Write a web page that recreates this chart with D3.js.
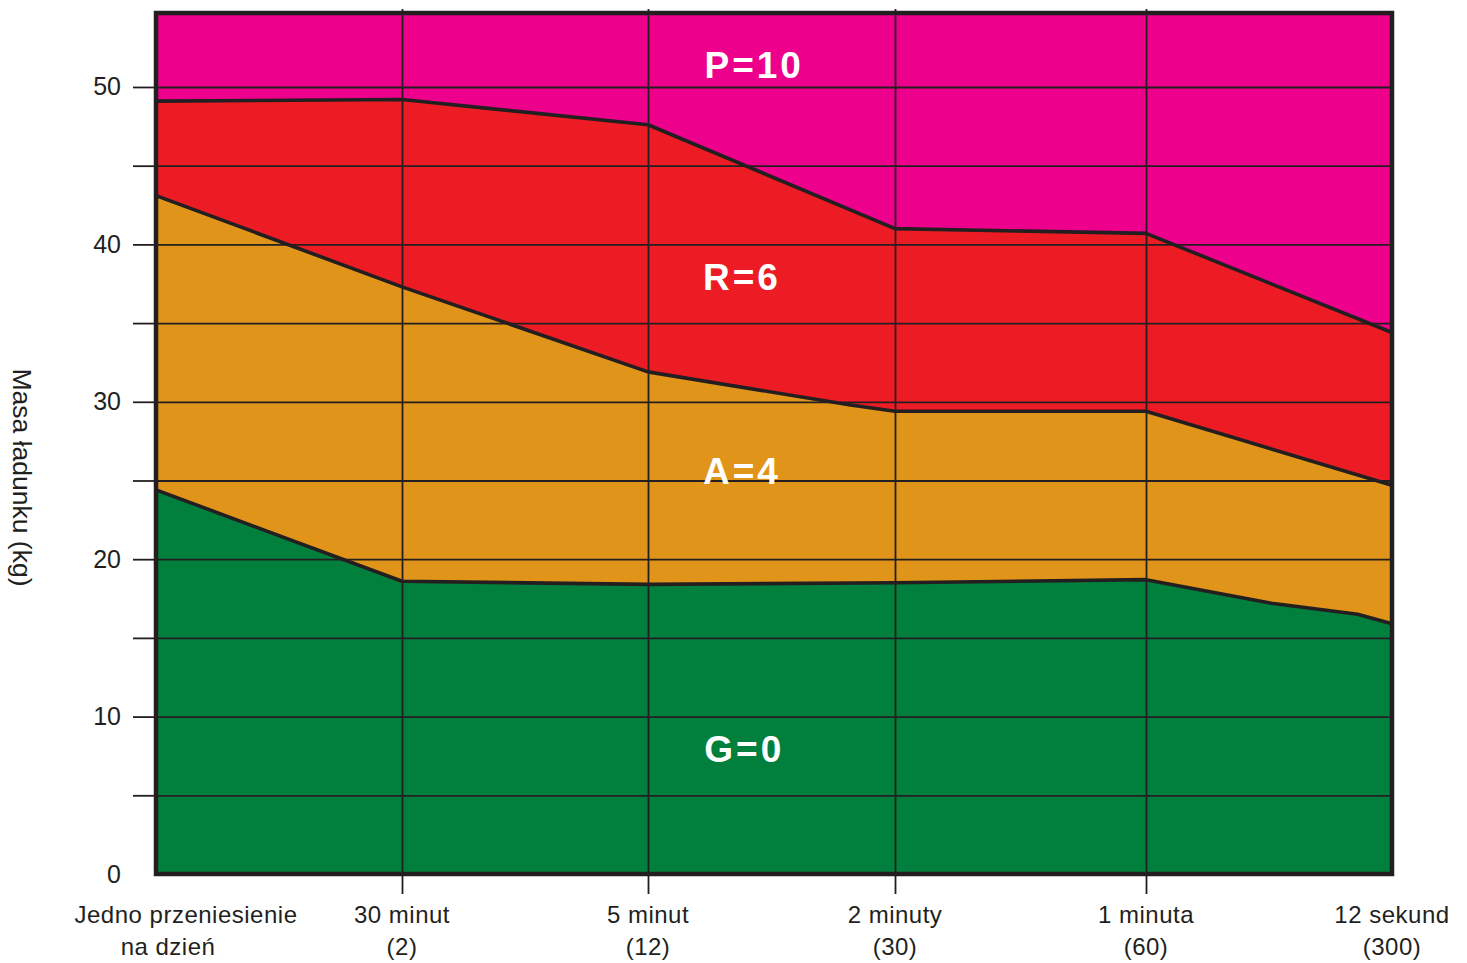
<!DOCTYPE html>
<html>
<head>
<meta charset="utf-8">
<script src="https://cdn.jsdelivr.net/npm/d3@7"></script>
<style>
  html, body { margin: 0; padding: 0; background: #ffffff; }
  svg { display: block; }
  text { font-family: "Liberation Sans", Arial, Helvetica, sans-serif; }
</style>
</head>
<body>
<svg id="chart" width="1467" height="963"></svg>
<script>
// ---------------- DATA ----------------
const categories = [
  ["Jedno przeniesienie", "na dzień"],
  ["30 minut", "(2)"],
  ["5 minut", "(12)"],
  ["2 minuty", "(30)"],
  ["1 minuta", "(60)"],
  ["12 sekund", "(300)"]
];
// boundary vertices: [category position (index), kg]
const greenTop  = [[0, 24.4], [1, 18.6], [2, 18.4], [3, 18.5], [4, 18.7], [4.51, 17.2], [4.86, 16.5], [5, 15.9]];
const orangeTop = [[0, 43.1], [1, 37.3], [2, 31.9], [2.82, 29.8], [3, 29.4], [4, 29.4], [5, 24.7]];
const redTop    = [[0, 49.1], [1, 49.2], [2, 47.6], [3, 41.0], [4, 40.7], [5, 34.4]];
const zoneLabels = ["P=10", "R=6", "A=4", "G=0"];
const yTickLabels = [0, 10, 20, 30, 40, 50];
const gridValues = [5, 10, 15, 20, 25, 30, 35, 40, 45, 50];
const yTitle = "Masa ładunku (kg)";
const yMax = 54.7;

// ---------------- LAYOUT ----------------
const pL = 156, pR = 1392, pT = 13, pB = 874;
const colors = { P: "#EC008C", R: "#ED1C24", A: "#E0951A", G: "#00803C", ink: "#231F20" };

const svg = d3.select("#chart");
// category columns in the original are very slightly uneven
const x = d3.scaleLinear().domain([0, 1, 2, 3, 4, 5]).range([pL, 402, 648, 895, 1146, pR]);
const y = d3.scaleLinear().domain([0, yMax]).range([pB, pT]);

// background (top zone)
svg.append("rect").attr("x", pL).attr("y", pT)
  .attr("width", pR - pL).attr("height", pB - pT)
  .attr("fill", colors.P);

const area = d3.area().x(d => x(d[0])).y0(y(0)).y1(d => y(d[1]));
[[redTop, colors.R], [orangeTop, colors.A], [greenTop, colors.G]].forEach(([data, c]) => {
  svg.append("path").datum(data).attr("d", area).attr("fill", c);
});

// horizontal grid
const gridG = svg.append("g").attr("transform", `translate(${pL},0)`)
  .call(d3.axisLeft(y).tickValues(gridValues).tickSize(-(pR - pL)).tickFormat(""));
gridG.select(".domain").remove();
gridG.selectAll("line").attr("stroke", colors.ink).attr("stroke-width", 1.8);

// outside y ticks
const yTickG = svg.append("g").attr("transform", `translate(${pL},0)`)
  .call(d3.axisLeft(y).tickValues(gridValues).tickSize(23).tickFormat(""));
yTickG.select(".domain").remove();
yTickG.selectAll("line").attr("stroke", colors.ink).attr("stroke-width", 1.8);

// y labels
const yLabG = svg.append("g").attr("transform", `translate(${pL},0)`)
  .call(d3.axisLeft(y).tickValues(yTickLabels).tickSize(0).tickPadding(35).tickFormat(d3.format("d")));
yLabG.select(".domain").remove();
yLabG.selectAll("text").attr("font-size", 25).attr("fill", colors.ink)
  .attr("font-family", "Liberation Sans, Arial, sans-serif");

// vertical grid (inner categories)
const inner = d3.range(1, categories.length - 1);
const vGrid = svg.append("g").attr("transform", `translate(0,${pB})`)
  .call(d3.axisBottom(x).tickValues(inner).tickSize(-(pB - pT + 4)).tickFormat(""));
vGrid.select(".domain").remove();
vGrid.selectAll("line").attr("stroke", colors.ink).attr("stroke-width", 1.8);
// ticks below the axis
const xTickG = svg.append("g").attr("transform", `translate(0,${pB})`)
  .call(d3.axisBottom(x).tickValues(inner).tickSize(20).tickFormat(""));
xTickG.select(".domain").remove();
xTickG.selectAll("line").attr("stroke", colors.ink).attr("stroke-width", 1.8);

// boundary lines
const line = d3.line().x(d => x(d[0])).y(d => y(d[1]));
[greenTop, orangeTop, redTop].forEach(data => {
  svg.append("path").datum(data).attr("d", line)
    .attr("fill", "none").attr("stroke", colors.ink).attr("stroke-width", 3.6)
    .attr("stroke-linejoin", "round");
});

// frame
svg.append("rect").attr("x", pL).attr("y", pT)
  .attr("width", pR - pL).attr("height", pB - pT)
  .attr("fill", "none").attr("stroke", colors.ink).attr("stroke-width", 4.5);

// x labels
const lineOffsets = [[30, 12], [0, 0], [0, 0], [0, 0], [0, 0], [0, 0]];
const xl = svg.append("g");
categories.forEach((lines, i) => {
  lines.forEach((t, j) => {
    xl.append("text")
      .attr("x", x(i) + lineOffsets[i][j])
      .attr("y", 923 + j * 32)
      .attr("text-anchor", "middle")
      .attr("font-size", 24)
      .attr("letter-spacing", 0.5)
      .attr("fill", colors.ink)
      .text(t);
  });
});

// y title
svg.append("text")
  .attr("transform", `translate(13,${(365 + 590) / 2}) rotate(90)`)
  .attr("text-anchor", "middle")
  .attr("font-size", 26.5)
  .attr("fill", colors.ink)
  .text(yTitle);

// zone labels
const labelPos = [[2.43, 78], [2.38, 290], [2.38, 484], [2.39, 762]];
zoneLabels.forEach((t, i) => {
  svg.append("text")
    .attr("x", x(labelPos[i][0]))
    .attr("y", labelPos[i][1])
    .attr("text-anchor", "middle")
    .attr("font-size", 37)
    .attr("font-weight", "bold")
    .attr("letter-spacing", 3)
    .attr("fill", "#ffffff")
    .text(t);
});
</script>
</body>
</html>
